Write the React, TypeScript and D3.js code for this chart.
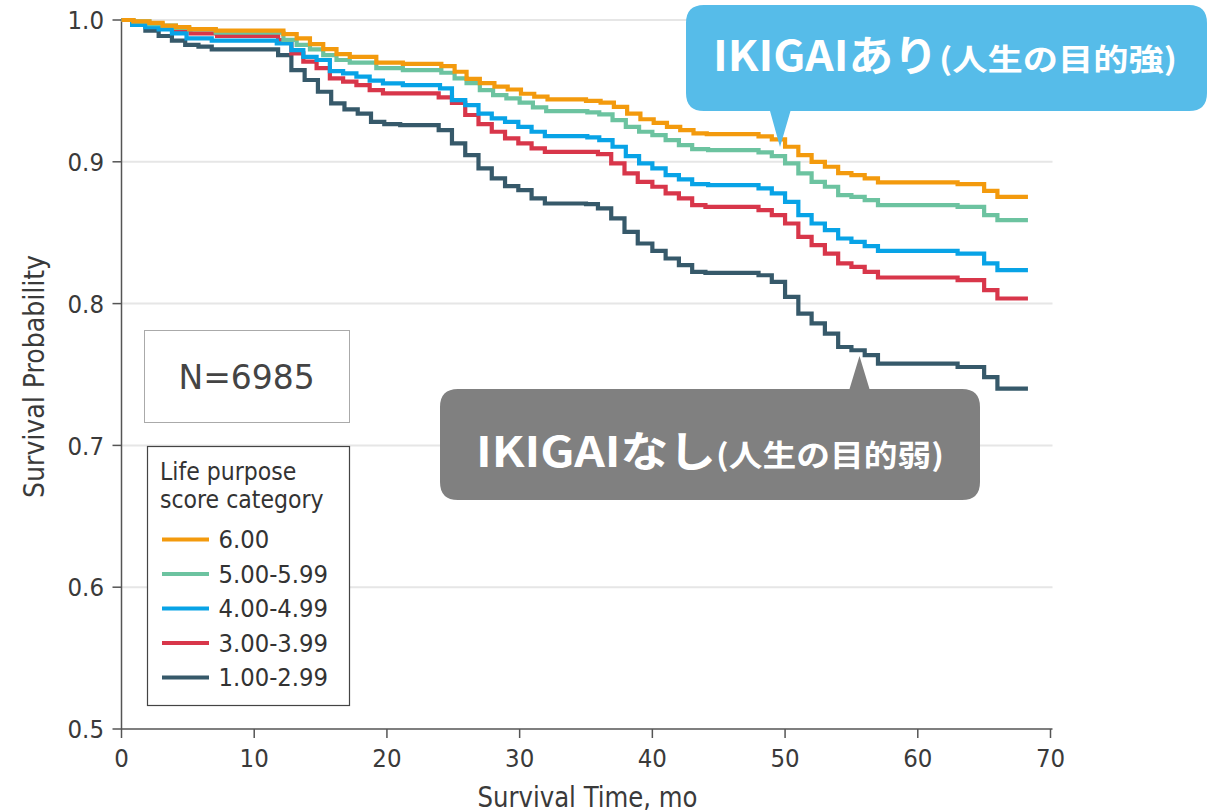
import React from "react";
import * as d3 from "d3";

const xTicks = [0, 10, 20, 30, 40, 50, 60, 70];
const yTicks = [0.5, 0.6, 0.7, 0.8, 0.9, 1.0];

const surv600: [number, number][] = [[0,1.0],[0.9,0.999],[2.1,0.998],[3.1,0.996],[4.1,0.995],[5.1,0.9935],[7.1,0.9925],[12.2,0.990],[13.2,0.987],[14.2,0.983],[15.2,0.9795],[16.2,0.976],[17.2,0.974],[19.2,0.970],[21.2,0.969],[24.1,0.9675],[25.1,0.9635],[26,0.9585],[27,0.9555],[28.1,0.953],[29.1,0.951],[30.1,0.948],[31.1,0.946],[32.1,0.944],[35,0.943],[36.1,0.9417],[37.1,0.9388],[38.1,0.934],[39.1,0.930],[40.1,0.9275],[41.1,0.9247],[42.1,0.9224],[43.1,0.920],[44.1,0.9195],[48,0.918],[49,0.9158],[50,0.9106],[51,0.9047],[52,0.900],[53,0.8965],[54,0.892],[55,0.8906],[56,0.8883],[57,0.8855],[63,0.8843],[65,0.8795],[66,0.8753],[68.3,0.8753]];
const surv500: [number, number][] = [[0,1.0],[0.9,0.999],[2.1,0.997],[3.1,0.996],[4.1,0.9945],[5.1,0.9934],[7.1,0.991],[12.2,0.986],[13.2,0.9824],[14.2,0.9793],[15.2,0.9753],[16.2,0.9718],[17.2,0.970],[19.2,0.966],[21.2,0.9647],[24.1,0.9628],[25.1,0.9588],[26,0.9555],[27,0.9506],[28,0.947],[29,0.9447],[30,0.9417],[31,0.9384],[32,0.9358],[35.1,0.9349],[36,0.9334],[37,0.9294],[38,0.9247],[39,0.9212],[40,0.9188],[41,0.9153],[42,0.9118],[43,0.909],[44.2,0.9083],[48,0.9066],[49,0.904],[50,0.8989],[51,0.8918],[52,0.8859],[53,0.8824],[54,0.8765],[55,0.8753],[56,0.873],[57,0.8694],[63,0.8682],[65,0.8624],[66,0.8589],[68.3,0.8589]];
const surv400: [number, number][] = [[0,1],[0.8,0.9965],[1.8,0.995],[2.8,0.9934],[3.8,0.9906],[4.9,0.987],[6.8,0.9854],[11.7,0.9835],[12.8,0.9788],[13.7,0.974],[14.7,0.9718],[15.7,0.964],[16.7,0.9624],[17.7,0.96],[18.7,0.9572],[19.7,0.9553],[21.2,0.9541],[24,0.9518],[24.9,0.9435],[25.9,0.940],[26.9,0.934],[27.9,0.9306],[28.9,0.9282],[29.9,0.9247],[30.9,0.9212],[31.9,0.9181],[35.1,0.9172],[36,0.9153],[37,0.9106],[38,0.904],[39,0.8989],[40,0.8953],[41,0.8906],[42,0.8876],[43,0.8843],[44.2,0.8836],[48,0.8812],[49,0.8777],[50,0.8718],[51,0.8624],[52,0.8565],[53,0.8518],[54,0.8459],[55,0.8435],[56,0.8405],[57,0.8372],[63,0.8353],[65,0.8283],[66,0.8236],[68.3,0.8236]];
const surv300: [number, number][] = [[0,1],[0.8,0.998],[2,0.996],[3,0.994],[4,0.993],[5.2,0.9906],[7.2,0.9887],[11.8,0.9859],[12.8,0.9765],[13.7,0.9706],[14.7,0.966],[15.7,0.9588],[16.7,0.9565],[17.7,0.9541],[18.7,0.9506],[19.7,0.9482],[23.9,0.9454],[24.9,0.9415],[25.9,0.933],[26.9,0.9265],[27.9,0.9212],[28.9,0.9165],[29.9,0.913],[30.9,0.9095],[31.9,0.907],[35.9,0.9054],[36.9,0.8989],[37.9,0.8918],[38.9,0.8859],[40,0.8824],[41,0.8777],[42,0.8742],[43,0.8694],[44,0.8682],[48,0.8659],[49,0.8624],[50,0.8565],[51,0.847],[52,0.8412],[53,0.8353],[54,0.8283],[55,0.8259],[56,0.8224],[57,0.8184],[63,0.8165],[65,0.8095],[66,0.8036],[68.3,0.8036]];
const surv100: [number, number][] = [[0,1],[0.8,0.9965],[1.8,0.9925],[2.8,0.9887],[3.8,0.9854],[4.8,0.9824],[5.8,0.9812],[6.8,0.9793],[11.8,0.9753],[12.8,0.9647],[13.8,0.9577],[14.8,0.9494],[15.8,0.9412],[16.8,0.937],[17.8,0.934],[18.8,0.9282],[19.8,0.9266],[21,0.9259],[23.9,0.9224],[24.9,0.913],[25.9,0.9047],[26.9,0.8953],[27.9,0.8883],[28.9,0.8829],[29.9,0.88],[30.9,0.8742],[31.9,0.8706],[35,0.8701],[35.9,0.8671],[36.9,0.8601],[37.9,0.8506],[38.9,0.8424],[40,0.8372],[41,0.8318],[42,0.8271],[43,0.8224],[44,0.8217],[48,0.82],[49,0.8153],[50,0.8047],[51,0.793],[52,0.786],[53,0.7788],[54,0.7694],[55,0.7671],[56,0.7636],[57,0.7577],[63,0.7553],[65,0.7482],[66,0.740],[68.3,0.740]];

const seriesLabels = ["6.00", "5.00-5.99", "4.00-4.99", "3.00-3.99", "1.00-2.99"];
const seriesColors = ["#f39a0d", "#6cc3a0", "#08a3e6", "#d8364a", "#36596a"];
const seriesData = [surv600, surv500, surv400, surv300, surv100];

const FONT = "'DejaVu Sans Condensed', 'Liberation Sans Narrow', 'Open Sans', sans-serif";
const WIDE = "'DejaVu Sans', 'Open Sans', sans-serif";
const JP = "'Noto Sans CJK JP', 'Noto Sans', sans-serif";

export default function App() {
  const W = 1217, H = 812;
  const x = d3.scaleLinear().domain([0, 70]).range([121.5, 1050.5]);
  const y = d3.scaleLinear().domain([0.5, 1.0]).range([729, 20]);
  const line = d3.line<[number, number]>().x(d => x(d[0])).y(d => y(d[1])).curve(d3.curveStepAfter);
  const order = [4, 3, 2, 1, 0];
  const legY0 = 539.5, legDy = 34.5;

  return (
    <svg width={W} height={H} style={{ position: "absolute", left: 0, top: 0, background: "#fff" }} fontFamily={FONT}>
      {yTicks.filter(t => t > 0.5).map(t => (
        <line key={"g" + t} x1={x(0)} x2={x(70) + 2} y1={y(t)} y2={y(t)} stroke="#e6e6e6" strokeWidth={2} />
      ))}
      {/* axes */}
      <line x1={x(0)} x2={x(0)} y1={y(1.0) - 1} y2={y(0.5)} stroke="#555" strokeWidth={1.5} />
      <line x1={x(0)} x2={x(70) + 2} y1={y(0.5)} y2={y(0.5)} stroke="#555" strokeWidth={1.5} />
      {yTicks.map(t => (
        <g key={"y" + t}>
          <line x1={x(0) - 9} x2={x(0)} y1={y(t)} y2={y(t)} stroke="#555" strokeWidth={1.5} />
          <text x={104} y={y(t)} dy="0.36em" textAnchor="end" fontSize={25.5} fill="#3a3a3a">{t.toFixed(1)}</text>
        </g>
      ))}
      {xTicks.map(t => (
        <g key={"x" + t}>
          <line x1={x(t)} x2={x(t)} y1={y(0.5)} y2={y(0.5) + 9} stroke="#555" strokeWidth={1.5} />
          <text x={x(t)} y={766.5} textAnchor="middle" fontSize={25.5} fill="#3a3a3a">{t}</text>
        </g>
      ))}
      <text x={587.5} y={806.5} textAnchor="middle" fontSize={28} fill="#3a3a3a" textLength={220} lengthAdjust="spacingAndGlyphs">Survival Time, mo</text>
      <text transform="translate(43.5,376.5) rotate(-90)" textAnchor="middle" fontSize={28} fill="#3a3a3a" textLength={243} lengthAdjust="spacingAndGlyphs">Survival Probability</text>

      {/* curves */}
      {order.map(i => (
        <path key={"s" + i} d={line(seriesData[i]) || ""} fill="none" stroke={seriesColors[i]} strokeWidth={4.2} />
      ))}

      {/* N box */}
      <rect x={144.5} y={330.5} width={205} height={92} fill="#fff" stroke="#aaa" strokeWidth={1} />
      <text x={246.7} y={377.5} dy="0.36em" textAnchor="middle" fontFamily={WIDE} fontSize={33} fill="#444">N=6985</text>

      {/* legend */}
      <rect x={147.5} y={446.5} width={202} height={259} fill="#fff" stroke="#444" strokeWidth={1.2} />
      <text x={160} y={480} fontSize={24.5} fill="#333">Life purpose</text>
      <text x={160} y={508} fontSize={24.5} fill="#333">score category</text>
      {seriesLabels.map((lab, i) => (
        <g key={"l" + i}>
          <line x1={162} x2={209} y1={legY0 + i * legDy} y2={legY0 + i * legDy} stroke={seriesColors[i]} strokeWidth={4.2} />
          <text x={218.5} y={legY0 + i * legDy + 8.5} fontSize={25.3} fill="#333">{lab}</text>
        </g>
      ))}

      {/* blue callout */}
      <path d="M704,5 H1189 Q1207,5 1207,23 V93 Q1207,111 1189,111 H790.5 L780,147 L770,111 H704 Q686,111 686,93 V23 Q686,5 704,5 Z" fill="#56bce9" />
      <text x={713} y={71} fontFamily={JP} fontWeight="bold" fontSize={42} fill="#fff" textLength={225} lengthAdjust="spacingAndGlyphs">IKIGAIあり</text>
      <text x={939} y={70} fontFamily={JP} fontWeight="bold" fontSize={30} fill="#fff" textLength={238} lengthAdjust="spacingAndGlyphs">(人生の目的強)</text>

      {/* grey callout */}
      <path d="M458,389 H849.5 L859.5,356 L869.5,389 H962 Q980,389 980,407 V482 Q980,500 962,500 H458 Q440,500 440,482 V407 Q440,389 458,389 Z" fill="#808080" />
      <text x={476} y={467} fontFamily={JP} fontWeight="bold" fontSize={42} fill="#fff" textLength={240} lengthAdjust="spacingAndGlyphs">IKIGAIなし</text>
      <text x={716} y={466} fontFamily={JP} fontWeight="bold" fontSize={30} fill="#fff" textLength={228} lengthAdjust="spacingAndGlyphs">(人生の目的弱)</text>
    </svg>
  );
}
